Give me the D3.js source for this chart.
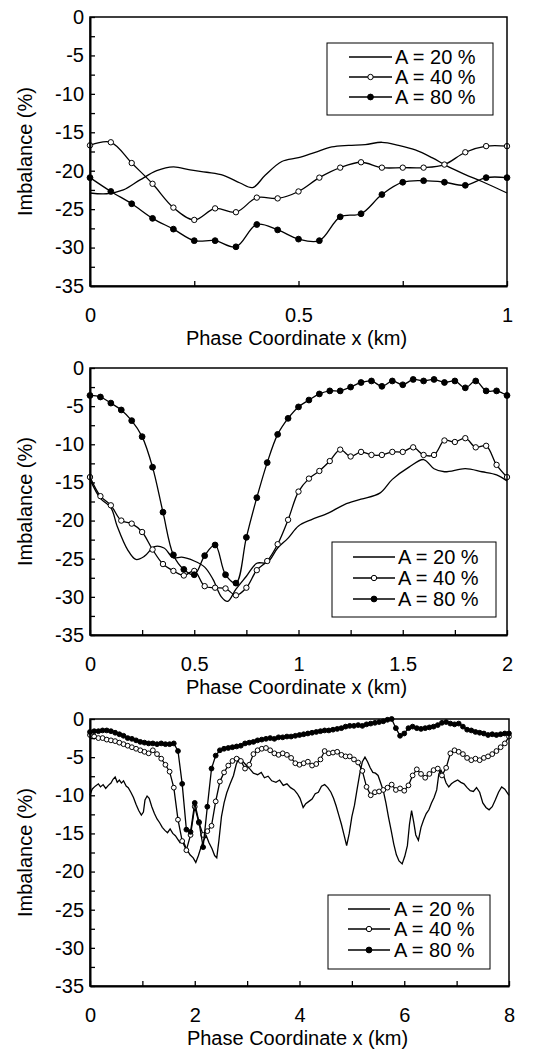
<!DOCTYPE html>
<html>
<head>
<meta charset="utf-8">
<script src="https://cdn.jsdelivr.net/npm/d3@7"></script>
<style>
  body { margin: 0; background: #fff; }
  text { font-family: "Liberation Sans", Arial, sans-serif; fill: #000; }
</style>
</head>
<body>
<svg id="chart" width="547" height="1050"></svg>
<script>
// ---- data ----
const legendLabels = ["A = 20 %", "A = 40 %", "A = 80 %"];
const yTickLabels = [0, -5, -10, -15, -20, -25, -30, -35];
const yTickValues = [0, -2.5, -5, -7.5, -10, -12.5, -15, -17.5, -20, -22.5, -25, -27.5, -30, -32.5, -35];

// panel 1 (0..1 km)
const p1XTicks = [0, 0.25, 0.5, 0.75, 1];
const p1XLabels = [0, 0.5, 1];
const p1Step = 0.05;
const p1A20x = [0, 0.04, 0.08, 0.12, 0.16, 0.2, 0.24, 0.28, 0.32, 0.36, 0.39, 0.42, 0.46, 0.5, 0.54, 0.58, 0.62, 0.66, 0.7, 0.74, 0.78, 0.82, 0.86, 0.9, 0.94, 1.0];
const p1A20 = [-22.9, -23.0, -22.5, -21.2, -20.0, -19.5, -19.9, -20.2, -20.6, -21.6, -22.2, -20.6, -18.8, -18.3, -17.6, -16.9, -16.7, -16.6, -16.3, -16.7, -17.3, -18.3, -19.5, -20.5, -21.4, -22.9];
const p1A40 = [-16.7, -16.3, -19.0, -21.7, -24.8, -26.4, -24.9, -25.4, -23.5, -23.6, -22.7, -20.9, -19.6, -18.9, -19.6, -19.6, -19.6, -19.2, -17.6, -16.8, -16.8];
const p1A80 = [-20.9, -22.7, -24.3, -26.2, -27.6, -29.1, -29.1, -29.9, -27.0, -27.7, -28.9, -29.1, -26.0, -25.6, -23.1, -21.5, -21.3, -21.5, -21.9, -20.9, -20.9];

// panel 2 (0..2 km)
const p2XTicks = [0, 0.25, 0.5, 0.75, 1, 1.25, 1.5, 1.75, 2];
const p2XLabels = [0, 0.5, 1, 1.5, 2];
const p2Step = 0.05;
const p2A20x = [0, 0.05, 0.1, 0.13, 0.18, 0.22, 0.26, 0.31, 0.355, 0.4, 0.44, 0.5, 0.55, 0.59, 0.63, 0.66, 0.7, 0.75, 0.8, 0.85, 0.9, 0.95, 1.0, 1.06, 1.145, 1.22, 1.3, 1.39, 1.45, 1.53, 1.6, 1.65, 1.7, 1.8, 1.88, 1.95, 2.0];
const p2A20 = [-14.6, -17.1, -18.3, -20.7, -23.8, -25.1, -24.7, -23.4, -23.6, -24.9, -24.8, -25.3, -26.1, -27.7, -30.0, -30.6, -29.0, -27.3, -25.6, -25.5, -23.6, -22.3, -20.7, -19.9, -19.0, -17.9, -17.2, -16.4, -14.6, -13.0, -12.0, -13.2, -13.6, -13.2, -13.6, -14.0, -14.8];
const p2A40 = [-14.3, -16.8, -18.0, -20.0, -20.4, -21.5, -23.8, -25.7, -26.6, -27.2, -26.6, -28.6, -28.8, -28.9, -29.8, -28.8, -26.5, -25.3, -23.1, -19.9, -16.2, -14.5, -13.5, -12.2, -10.7, -11.6, -11.0, -11.4, -11.4, -11.0, -11.0, -10.4, -11.4, -11.4, -9.5, -9.7, -9.2, -10.4, -10.2, -12.7, -14.3];
const p2A80 = [-3.6, -3.8, -4.6, -5.5, -6.9, -9.0, -13.0, -18.9, -24.5, -26.4, -27.1, -24.6, -23.2, -27.1, -28.2, -22.2, -17.0, -12.4, -8.7, -6.6, -5.1, -4.2, -3.4, -3.0, -3.0, -2.5, -1.9, -1.7, -2.4, -1.7, -2.2, -1.5, -1.7, -1.5, -1.9, -1.7, -2.6, -1.7, -3.0, -3.0, -3.6];

// panel 3 (0..8 km)
const p3XTicks = [0, 1, 2, 3, 4, 5, 6, 7, 8];
const p3XLabels = [0, 2, 4, 6, 8];
const p3Step = 0.08;
const p3A20x = [0, 0.04, 0.1, 0.16, 0.2, 0.25, 0.3, 0.35, 0.4, 0.44, 0.48, 0.52, 0.56, 0.6, 0.64, 0.69, 0.73, 0.78, 0.83, 0.88, 0.93, 0.98,
  1.02, 1.05, 1.09, 1.13, 1.18, 1.23, 1.28, 1.33, 1.38, 1.43, 1.48, 1.53, 1.58, 1.63, 1.68, 1.72, 1.78, 1.84, 1.91, 1.97,
  2.02, 2.07, 2.12, 2.17, 2.22, 2.27, 2.33, 2.38, 2.42, 2.46, 2.51, 2.56, 2.61, 2.67, 2.74, 2.79, 2.84, 2.89, 2.95,
  3.0, 3.06, 3.12, 3.2, 3.27, 3.33, 3.4, 3.47, 3.55, 3.62, 3.69, 3.76, 3.83, 3.9, 3.96,
  4.01, 4.07, 4.12, 4.18, 4.24, 4.3, 4.36, 4.42, 4.48, 4.54, 4.6, 4.65, 4.7, 4.75, 4.8, 4.85, 4.9, 4.95,
  5.0, 5.05, 5.1, 5.15, 5.2, 5.25, 5.3, 5.35, 5.4, 5.45, 5.5, 5.55, 5.6, 5.65, 5.7, 5.75, 5.8, 5.85, 5.9, 5.96,
  6.01, 6.06, 6.1, 6.14, 6.18, 6.22, 6.27, 6.32, 6.37, 6.42, 6.47, 6.52, 6.57, 6.62, 6.66, 6.7, 6.75, 6.8, 6.85, 6.9, 6.96,
  7.02, 7.08, 7.14, 7.2, 7.26, 7.32, 7.38, 7.44, 7.5, 7.56, 7.62, 7.68, 7.74, 7.8, 7.86, 7.92, 8.0];
const p3A20 = [-10.0, -9.2, -8.8, -8.5, -8.9, -8.6, -9.1, -8.7, -8.4, -7.9, -7.6, -8.3, -8.0, -8.4, -8.1, -8.8, -9.0, -9.6, -10.3, -11.2, -12.0, -12.6,
  -12.2, -10.6, -10.1, -10.4, -11.5, -12.4, -13.1, -13.6, -14.2, -14.6, -14.9, -14.4, -15.0, -15.3, -15.8, -16.2, -16.0, -17.0, -17.8, -18.2,
  -18.8, -17.9, -16.8, -15.9, -15.3, -16.2, -17.0, -17.9, -18.2, -16.0, -12.8, -11.0, -9.7, -8.6, -7.4, -6.0, -5.1, -5.4, -5.8,
  -6.2, -6.6, -7.1, -7.3, -7.0, -7.7, -7.5, -8.1, -8.3, -8.0, -8.7, -8.5, -9.0, -9.3, -9.8,
  -10.4, -11.6, -11.1, -10.8, -10.5, -9.8, -9.6, -8.8, -8.6, -9.0, -9.6, -10.4, -11.4, -12.6, -13.8, -15.2, -16.6, -15.0,
  -12.8, -11.3, -9.2, -7.2, -5.6, -5.0, -5.6, -6.4, -7.0, -7.1, -7.4, -8.4, -9.4, -11.0, -12.9, -14.6, -16.4, -17.8, -18.6, -19.0,
  -18.0, -16.6, -13.8, -12.0, -13.5, -15.2, -15.9, -14.2, -13.2, -12.4, -11.9, -11.0, -10.3, -9.3, -7.2, -6.7, -7.4, -8.4, -8.9, -8.5, -8.2,
  -8.0, -8.3, -8.5, -9.0, -9.4, -9.5, -9.0, -9.6, -11.0, -11.6, -11.9, -11.5, -10.6, -9.6, -8.9, -9.2, -10.0];
const p3A40 = [-2.1, -2.3, -2.5, -2.5, -2.7, -2.8, -2.9, -3.1, -3.3, -3.5, -3.7, -3.9, -4.1, -4.3, -4.5, -4.1, -4.6, -5.2, -6.0, -6.9,
  -9.0, -13.2, -16.0, -17.2, -15.2, -11.5, -13.6, -15.2, -14.7, -14.0, -10.8, -8.2, -7.0, -6.1, -5.5, -5.2, -5.5, -6.5, -6.0, -4.6,
  -4.1, -3.9, -3.8, -4.1, -4.5, -4.7, -4.5, -4.7, -5.1, -5.8, -6.0, -5.8, -5.6, -6.1, -5.9, -5.3, -4.2, -4.5, -4.4, -4.3,
  -4.7, -4.9, -4.9, -5.3, -5.7, -6.8, -8.9, -10.0, -9.6, -9.5, -9.3, -9.0, -8.6, -9.3, -9.1, -9.4, -8.7, -7.4, -6.6, -7.2,
  -7.7, -7.2, -6.7, -6.5, -7.4, -6.4, -4.5, -4.1, -4.3, -4.6, -5.1, -5.4, -5.2, -5.4, -5.1, -4.9, -4.6, -4.2, -3.7, -3.2, -2.3];
const p3A80 = [-1.7, -1.6, -1.6, -1.5, -1.5, -1.6, -1.8, -2.0, -2.2, -2.5, -2.6, -2.8, -3.0, -3.1, -3.2, -3.2, -3.3, -3.2, -3.3, -3.3,
  -3.2, -4.2, -8.5, -14.5, -14.8, -11.0, -13.5, -16.8, -11.5, -6.5, -4.8, -4.1, -3.9, -3.8, -3.7, -3.6, -3.5, -3.2, -3.1, -3.0,
  -2.8, -2.7, -2.6, -2.5, -2.6, -2.4, -2.4, -2.3, -2.3, -2.2, -2.1, -2.0, -1.9, -1.8, -1.7, -1.6, -1.5, -1.5, -1.4, -1.3,
  -1.2, -1.0, -0.9, -0.9, -0.8, -0.9, -0.7, -0.6, -0.5, -0.4, -0.3, -0.1, 0.0, -1.2, -2.2, -1.9, -1.2, -1.0, -1.2, -1.3,
  -1.2, -1.1, -1.0, -0.8, -0.5, -0.4, -0.6, -0.7, -0.6, -1.0, -1.4, -1.5, -1.7, -1.8, -1.9, -2.1, -2.0, -2.1, -2.0, -1.9, -1.9];

// ---- layout ----
const svg = d3.select("#chart");
const FONT = 20;

const panels = [
  {
    left: 90, right: 507, top: 17, bottom: 286, xMax: 1,
    xTicks: p1XTicks, xLabels: p1XLabels, curve: d3.curveCatmullRom.alpha(0.5),
    series: [
      { xs: p1A20x, ys: p1A20, marker: "none" },
      { xs: p1A40.map((d, i) => i * p1Step), ys: p1A40, marker: "open" },
      { xs: p1A80.map((d, i) => i * p1Step), ys: p1A80, marker: "filled" }
    ],
    legend: { x: 327, y: 43, w: 166, h: 72, rows: [57, 77, 97], x1: 349, x2: 392, tx: 395 }
  },
  {
    left: 90, right: 507, top: 368, bottom: 635, xMax: 2,
    xTicks: p2XTicks, xLabels: p2XLabels, curve: d3.curveCatmullRom.alpha(0.5),
    series: [
      { xs: p2A20x, ys: p2A20, marker: "none" },
      { xs: p2A40.map((d, i) => i * p2Step), ys: p2A40, marker: "open" },
      { xs: p2A80.map((d, i) => i * p2Step), ys: p2A80, marker: "filled" }
    ],
    legend: { x: 332, y: 542, w: 164, h: 75, rows: [557, 578, 599], x1: 353, x2: 395, tx: 398 }
  },
  {
    left: 90, right: 509, top: 719, bottom: 986, xMax: 8,
    xTicks: p3XTicks, xLabels: p3XLabels, curve: d3.curveLinear,
    series: [
      { xs: p3A20x, ys: p3A20, marker: "none" },
      { xs: p3A40.map((d, i) => i * p3Step), ys: p3A40, marker: "open", r: 2.4 },
      { xs: p3A80.map((d, i) => i * p3Step), ys: p3A80, marker: "filled", r: 2.4 }
    ],
    legend: { x: 328, y: 895, w: 162, h: 74, rows: [909, 929, 950], x1: 348, x2: 390, tx: 394 }
  }
];

function drawMarker(sel, type, r) {
  sel.append("circle")
    .attr("r", r)
    .attr("fill", type === "filled" ? "#000" : "#fff")
    .attr("stroke", "#000")
    .attr("stroke-width", 1);
}

panels.forEach(p => {
  const x = d3.scaleLinear().domain([0, p.xMax]).range([p.left, p.right]);
  const y = d3.scaleLinear().domain([-35, 0]).range([p.bottom, p.top]);
  const g = svg.append("g");

  //series lines + markers
  p.series.forEach(s => {
    const pts = d3.zip(s.xs, s.ys);
    const line = d3.line().x(d => x(d[0])).y(d => y(d[1])).curve(p.curve);
    g.append("path")
      .attr("d", line(pts))
      .attr("fill", "none")
      .attr("stroke", "#000")
      .attr("stroke-width", 1.3);
    if (s.marker !== "none") {
      g.selectAll(null)
        .data(pts)
        .enter()
        .append("circle")
        .attr("cx", d => x(d[0]))
        .attr("cy", d => y(d[1]))
        .attr("r", s.r || (s.marker === "filled" ? 2.9 : 2.7))
        .attr("fill", s.marker === "filled" ? "#000" : "#fff")
        .attr("stroke", "#000")
        .attr("stroke-width", 1);
    }
  });

  // frame (top / right)
  g.append("rect")
    .attr("x", p.left).attr("y", p.top)
    .attr("width", p.right - p.left).attr("height", p.bottom - p.top)
    .attr("fill", "none").attr("stroke", "#000").attr("stroke-width", 1.5);

  // y axis, ticks pointing inward
  const yAxis = d3.axisLeft(y)
    .tickValues(yTickValues)
    .tickSizeInner(-5).tickSizeOuter(0).tickPadding(6)
    .tickFormat(d => yTickLabels.includes(d) ? String(d) : "");
  const ya = g.append("g").attr("transform", `translate(${p.left},0)`).call(yAxis);
  ya.select(".domain").attr("stroke-width", 2);
  ya.selectAll(".tick line").attr("stroke-width", 1.3);
  ya.selectAll("text").attr("font-size", FONT).attr("font-family", "Liberation Sans, Arial, sans-serif");

  // x axis
  const xAxis = d3.axisBottom(x)
    .tickValues(p.xTicks)
    .tickSizeInner(-5).tickSizeOuter(0).tickPadding(22)
    .tickFormat(d => p.xLabels.includes(d) ? String(d) : "");
  const xa = g.append("g").attr("transform", `translate(0,${p.bottom})`).call(xAxis);
  xa.select(".domain").attr("stroke-width", 2);
  xa.selectAll(".tick line").attr("stroke-width", 1.3);
  xa.selectAll("text").attr("font-size", FONT).attr("font-family", "Liberation Sans, Arial, sans-serif");

  // axis titles
  g.append("text")
    .attr("x", (p.left + p.right) / 2 - 2)
    .attr("y", p.bottom + 52)
    .attr("dy", "0.35em")
    .attr("text-anchor", "middle")
    .attr("font-size", FONT)
    .text("Phase Coordinate x (km)");
  g.append("text")
    .attr("transform", `translate(25,${(p.top + p.bottom) / 2}) rotate(-90)`)
    .attr("dy", "0.35em")
    .attr("text-anchor", "middle")
    .attr("font-size", FONT)
    .text("Imbalance (%)");

  // legend
  const L = p.legend;
  const lg = g.append("g");
  lg.append("rect")
    .attr("x", L.x).attr("y", L.y).attr("width", L.w).attr("height", L.h)
    .attr("fill", "#fff").attr("stroke", "#000").attr("stroke-width", 1);
  p.series.forEach((s, i) => {
    const ry = L.rows[i];
    lg.append("line")
      .attr("x1", L.x1).attr("x2", L.x2).attr("y1", ry).attr("y2", ry)
      .attr("stroke", "#000").attr("stroke-width", 1.3);
    if (s.marker !== "none") {
      const m = lg.append("g").attr("transform", `translate(${(L.x1 + L.x2) / 2},${ry})`);
      drawMarker(m, s.marker, s.marker === "filled" ? 2.9 : 2.7);
    }
    lg.append("text")
      .attr("x", L.tx).attr("y", ry)
      .attr("dy", "0.35em")
      .attr("font-size", FONT)
      .text(legendLabels[i]);
  });
});
</script>
</body>
</html>
